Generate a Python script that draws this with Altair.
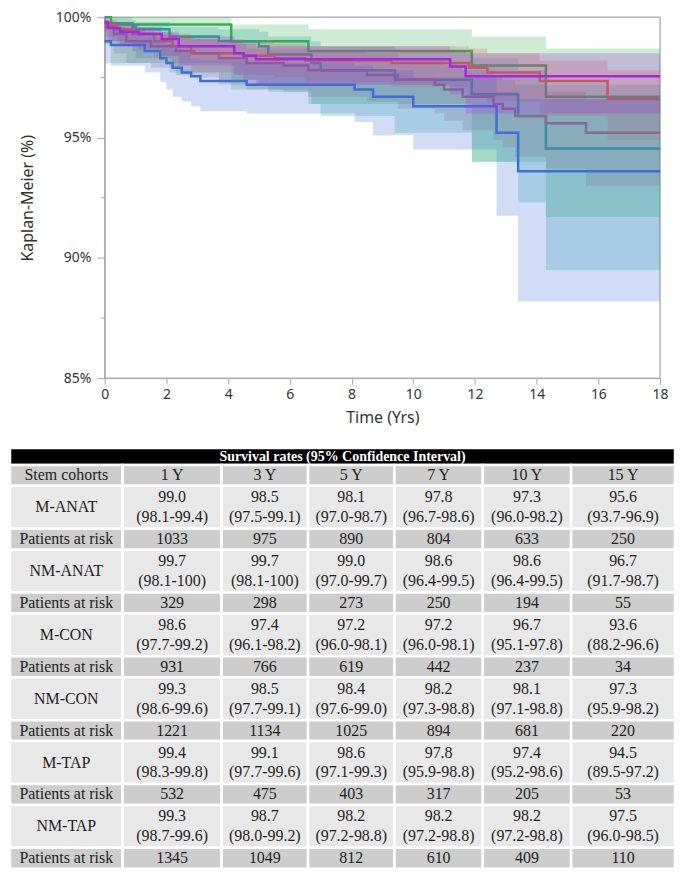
import altair as alt
import pandas as pd

# ---------------- Kaplan-Meier curves ----------------
# draw order (bottom -> top)
series_names = ["NM-ANAT", "M-TAP", "NM-CON", "M-ANAT", "M-CON", "NM-TAP"]
series_colors = ["#34b04a", "#1ca596", "#d0693f", "#9a6a7a", "#3d6fd9", "#a526e0"]

nm_anat_t = [0, 0.2, 4.1, 6.6, 11.9, 14.3, 18]
nm_anat_s = [100, 99.7, 99.0, 98.6, 98.0, 96.7, 96.7]
nm_anat_lo = [100, 98.1, 97.0, 96.4, 94.0, 91.7, 91.7]
nm_anat_hi = [100, 100, 99.7, 99.5, 99.2, 98.7, 98.7]

m_tap_t = [0, 0.9, 1.0, 2.1, 3.7, 5.0, 5.3, 6.7, 7.0, 9.4, 11.9, 13.4, 14.3, 18]
m_tap_s = [99.75, 99.6, 99.5, 99.2, 99.0, 98.8, 98.45, 98.1, 97.8, 97.4, 96.8, 95.9, 94.55, 94.55]
m_tap_lo = [99.0, 98.6, 98.3, 97.7, 97.4, 97.2, 96.9, 96.4, 95.9, 95.2, 94.0, 92.3, 89.5, 89.5]
m_tap_hi = [100, 99.9, 99.8, 99.6, 99.5, 99.4, 99.2, 99.0, 98.8, 98.6, 98.3, 97.8, 97.2, 97.2]

nm_con_t = [0, 0.4, 0.9, 1.6, 2.2, 2.8, 4.5, 5.5, 6.5, 9.3, 11.8, 12.4, 14.1, 16.3, 18]
nm_con_s = [99.7, 99.5, 99.3, 99.0, 98.8, 98.5, 98.4, 98.3, 98.2, 98.1, 97.9, 97.7, 97.35, 96.6, 96.6]
nm_con_lo = [99.2, 98.9, 98.6, 98.3, 98.0, 97.7, 97.6, 97.5, 97.3, 97.1, 96.8, 96.5, 95.9, 94.9, 94.9]
nm_con_hi = [99.9, 99.8, 99.6, 99.4, 99.3, 99.1, 99.0, 98.9, 98.8, 98.8, 98.7, 98.5, 98.2, 97.8, 97.8]

m_anat_t = [0, 0.3, 0.7, 1.5, 2.3, 2.9, 3.7, 4.6, 5.8, 6.6, 8.5, 9.5, 10.7, 11.0, 11.6, 12.6, 12.9, 13.3, 14.3, 15.6, 18]
m_anat_s = [99.6, 99.3, 99.0, 98.8, 98.6, 98.5, 98.3, 98.1, 98.0, 97.8, 97.6, 97.4, 97.2, 97.0, 96.7, 96.4, 96.2, 95.9, 95.6, 95.2, 95.2]
m_anat_lo = [98.9, 98.5, 98.1, 97.9, 97.6, 97.5, 97.2, 97.0, 96.9, 96.7, 96.5, 96.2, 96.0, 95.7, 95.3, 94.9, 94.6, 94.2, 93.7, 93.0, 93.0]
m_anat_hi = [99.9, 99.6, 99.4, 99.3, 99.2, 99.1, 98.9, 98.7, 98.7, 98.6, 98.5, 98.3, 98.2, 98.0, 97.8, 97.6, 97.4, 97.2, 96.9, 96.6, 96.6]

m_con_t = [0, 0.2, 1.3, 1.8, 2.0, 2.2, 2.5, 2.8, 3.1, 4.6, 8.1, 8.7, 10.0, 12.7, 13.4, 18]
m_con_s = [99.0, 98.85, 98.6, 98.3, 98.1, 97.9, 97.7, 97.55, 97.35, 97.2, 97.0, 96.7, 96.3, 95.2, 93.6, 93.6]
m_con_lo = [98.1, 98.0, 97.7, 97.3, 97.0, 96.7, 96.5, 96.3, 96.1, 96.0, 95.65, 95.1, 94.5, 91.75, 88.2, 88.2]
m_con_hi = [99.6, 99.5, 99.2, 99.0, 98.9, 98.7, 98.5, 98.3, 98.2, 98.1, 98.0, 97.8, 97.5, 96.9, 96.6, 96.6]

nm_tap_t = [0, 0.1, 0.5, 1.1, 1.85, 2.4, 4.2, 4.5, 4.9, 11.2, 11.7, 18]
nm_tap_s = [99.8, 99.55, 99.4, 99.3, 99.1, 98.8, 98.5, 98.4, 98.25, 97.95, 97.55, 97.55]
nm_tap_lo = [99.4, 99.0, 98.8, 98.7, 98.4, 98.0, 97.6, 97.4, 97.2, 96.8, 96.0, 96.0]
nm_tap_hi = [100, 99.8, 99.7, 99.6, 99.4, 99.2, 99.0, 98.9, 98.8, 98.6, 98.5, 98.5]

minor_ticks = [87.5, 92.5, 97.5]
y_ticks = [85, 90, 95, 100]
x_ticks = [0, 2, 4, 6, 8, 10, 12, 14, 16, 18]

# ---------------- Table data ----------------
table_title = "Survival rates (95% Confidence Interval)"
first_header = "Stem cohorts"
years = ["1 Y", "3 Y", "5 Y", "7 Y", "10 Y", "15 Y"]
cohorts = ["M-ANAT", "NM-ANAT", "M-CON", "NM-CON", "M-TAP", "NM-TAP"]
risk_label = "Patients at risk"

m_anat_rate = ["99.0", "98.5", "98.1", "97.8", "97.3", "95.6"]
m_anat_ci = ["(98.1-99.4)", "(97.5-99.1)", "(97.0-98.7)", "(96.7-98.6)", "(96.0-98.2)", "(93.7-96.9)"]
m_anat_risk = [1033, 975, 890, 804, 633, 250]

nm_anat_rate = ["99.7", "99.7", "99.0", "98.6", "98.6", "96.7"]
nm_anat_ci = ["(98.1-100)", "(98.1-100)", "(97.0-99.7)", "(96.4-99.5)", "(96.4-99.5)", "(91.7-98.7)"]
nm_anat_risk = [329, 298, 273, 250, 194, 55]

m_con_rate = ["98.6", "97.4", "97.2", "97.2", "96.7", "93.6"]
m_con_ci = ["(97.7-99.2)", "(96.1-98.2)", "(96.0-98.1)", "(96.0-98.1)", "(95.1-97.8)", "(88.2-96.6)"]
m_con_risk = [931, 766, 619, 442, 237, 34]

nm_con_rate = ["99.3", "98.5", "98.4", "98.2", "98.1", "97.3"]
nm_con_ci = ["(98.6-99.6)", "(97.7-99.1)", "(97.6-99.0)", "(97.3-98.8)", "(97.1-98.8)", "(95.9-98.2)"]
nm_con_risk = [1221, 1134, 1025, 894, 681, 220]

m_tap_rate = ["99.4", "99.1", "98.6", "97.8", "97.4", "94.5"]
m_tap_ci = ["(98.3-99.8)", "(97.7-99.6)", "(97.1-99.3)", "(95.9-98.8)", "(95.2-98.6)", "(89.5-97.2)"]
m_tap_risk = [532, 475, 403, 317, 205, 53]

nm_tap_rate = ["99.3", "98.7", "98.2", "98.2", "98.2", "97.5"]
nm_tap_ci = ["(98.7-99.6)", "(98.0-99.2)", "(97.2-98.8)", "(97.2-98.8)", "(97.2-98.8)", "(96.0-98.5)"]
nm_tap_risk = [1345, 1049, 812, 610, 409, 110]

# ---------------- build KM frame ----------------
km_series = {
    "NM-ANAT": (nm_anat_t, nm_anat_s, nm_anat_lo, nm_anat_hi),
    "M-TAP": (m_tap_t, m_tap_s, m_tap_lo, m_tap_hi),
    "NM-CON": (nm_con_t, nm_con_s, nm_con_lo, nm_con_hi),
    "M-ANAT": (m_anat_t, m_anat_s, m_anat_lo, m_anat_hi),
    "M-CON": (m_con_t, m_con_s, m_con_lo, m_con_hi),
    "NM-TAP": (nm_tap_t, nm_tap_s, nm_tap_lo, nm_tap_hi),
}
rows = []
for name in series_names:
    t, s, lo, hi = km_series[name]
    for i in range(len(t)):
        rows.append({"series": name, "t": t[i], "s": s[i], "lo": lo[i], "hi": hi[i]})
km_df = pd.DataFrame(rows)

AXC = "#a9a9a9"
FONT = "Noto Sans"
PLOT_W, PLOT_H = 557, 362
LEFT_EXT = 95  # room taken by the y axis left of the plot

xscale = alt.Scale(domain=[0, 18], nice=False, zero=False)
yscale = alt.Scale(domain=[85, 100], nice=False, zero=False)
xaxis = alt.Axis(values=x_ticks, labelFlush=False, grid=False, domainColor=AXC, tickColor=AXC,
                 tickSize=6, labelPadding=3, titlePadding=8, labelFont=FONT, labelFontSize=14,
                 labelColor="#333", titleFont=FONT, titleFontSize=16, titleFontWeight="normal",
                 titleColor="#333")
yaxis = alt.Axis(values=y_ticks, labelExpr="datum.value + '%'", grid=False, domainColor=AXC,
                 tickColor=AXC, tickSize=8, labelPadding=6, titlePadding=20, labelFont=FONT,
                 labelFontSize=14, labelColor="#333", titleFont=FONT, titleFontSize=16,
                 titleFontWeight="normal", titleColor="#333")
XT = "Time (Yrs)"
YT = "Kaplan-Meier (%)"

layers = []
for name, col in zip(series_names, series_colors):
    base = alt.Chart(km_df).transform_filter(alt.datum.series == name)
    band = base.mark_area(interpolate="step-after", color=col, opacity=0.24).encode(
        x=alt.X("t:Q", scale=xscale, axis=xaxis, title=XT),
        y=alt.Y("lo:Q", scale=yscale, axis=yaxis, title=YT),
        y2="hi:Q",
    )
    line = base.mark_line(interpolate="step-after", color=col, strokeWidth=2.5).encode(
        x=alt.X("t:Q", scale=xscale, axis=xaxis, title=XT),
        y=alt.Y("s:Q", scale=yscale, axis=yaxis, title=YT),
    )
    layers += [band, line]

minor = alt.Chart(pd.DataFrame({"v": minor_ticks})).mark_rule(color=AXC).encode(
    y=alt.Y("v:Q", scale=yscale, axis=yaxis, title=YT),
    x=alt.value(-4),
    x2=alt.value(0),
)
layers.append(minor)

km = alt.layer(*layers).properties(
    width=PLOT_W, height=PLOT_H, view=alt.ViewBackground(stroke="#b5b5b5", strokeWidth=1.5)
)

# ---------------- build table frame ----------------
col_edges = [0, 116, 218, 307, 396, 487, 578, 685]
H_TITLE, H_HEAD, H_COH, H_RISK = 17, 21, 43, 21

cells = []
y0 = 0
cells.append({"x0": 0, "x1": 685, "y0": y0, "y1": y0 + H_TITLE, "t1": table_title, "t2": "",
              "fill": "#000000", "kind": "title"})
y0 += H_TITLE
head = [first_header] + years
for j, txt in enumerate(head):
    cells.append({"x0": col_edges[j], "x1": col_edges[j + 1], "y0": y0, "y1": y0 + H_HEAD,
                  "t1": txt, "t2": "", "fill": "#cdcdcd", "kind": "one"})
y0 += H_HEAD
table_rows = [
    (m_anat_rate, m_anat_ci, m_anat_risk),
    (nm_anat_rate, nm_anat_ci, nm_anat_risk),
    (m_con_rate, m_con_ci, m_con_risk),
    (nm_con_rate, nm_con_ci, nm_con_risk),
    (m_tap_rate, m_tap_ci, m_tap_risk),
    (nm_tap_rate, nm_tap_ci, nm_tap_risk),
]
for name, (rate, ci, risk) in zip(cohorts, table_rows):
    cells.append({"x0": col_edges[0], "x1": col_edges[1], "y0": y0, "y1": y0 + H_COH,
                  "t1": name, "t2": "", "fill": "#e8e8e8", "kind": "one"})
    for j, (r, c) in enumerate(zip(rate, ci)):
        cells.append({"x0": col_edges[j + 1], "x1": col_edges[j + 2], "y0": y0, "y1": y0 + H_COH,
                      "t1": r, "t2": c, "fill": "#e8e8e8", "kind": "two"})
    y0 += H_COH
    vals = [risk_label] + [str(v) for v in risk]
    for j, txt in enumerate(vals):
        cells.append({"x0": col_edges[j], "x1": col_edges[j + 1], "y0": y0, "y1": y0 + H_RISK,
                      "t1": txt, "t2": "", "fill": "#cdcdcd", "kind": "one"})
    y0 += H_RISK
total_h = y0
tab_df = pd.DataFrame(cells)
tab_df["xc"] = (tab_df["x0"] + tab_df["x1"]) / 2
tab_df["yc"] = (tab_df["y0"] + tab_df["y1"]) / 2

# the table spans the full figure width, starting under the y axis of the plot
tx = alt.Scale(domain=[0, 685], range=[-LEFT_EXT, 669 - LEFT_EXT - 2], nice=False, zero=False)
ty = alt.Scale(domain=[0, total_h], nice=False, zero=False, reverse=True)

tbase = alt.Chart(tab_df)
X_ = alt.X("xc:Q", scale=tx, axis=None)
Y_ = alt.Y("yc:Q", scale=ty, axis=None)
rects = tbase.mark_rect(stroke="white", strokeWidth=2.5).encode(
    x=alt.X("x0:Q", scale=tx, axis=None),
    x2="x1:Q",
    y=alt.Y("y0:Q", scale=ty, axis=None),
    y2="y1:Q",
    fill=alt.Fill("fill:N", scale=None),
)
txt_style = dict(font="Liberation Serif", fontSize=16, color="#1e1e1e", baseline="middle",
                 align="center")
one = tbase.transform_filter(alt.datum.kind == "one").mark_text(**txt_style).encode(
    x=X_, y=Y_, text="t1:N")
two_a = tbase.transform_filter(alt.datum.kind == "two").mark_text(dy=-10, **txt_style).encode(
    x=X_, y=Y_, text="t1:N")
two_b = tbase.transform_filter(alt.datum.kind == "two").mark_text(dy=10, **txt_style).encode(
    x=X_, y=Y_, text="t2:N")
title_txt = tbase.transform_filter(alt.datum.kind == "title").mark_text(
    font="Liberation Serif", fontSize=14, fontWeight="bold", color="white",
    baseline="middle", align="center", dy=1
).encode(x=X_, y=Y_, text="t1:N")

table = alt.layer(rects, one, two_a, two_b, title_txt).properties(
    width=PLOT_W, height=total_h, view=alt.ViewBackground(stroke=None)
)

chart = alt.vconcat(km, table, spacing=20).properties(padding=0).configure_view(stroke=None)
chart.save("out.html", embed_options={"renderer": "svg", "actions": False})
